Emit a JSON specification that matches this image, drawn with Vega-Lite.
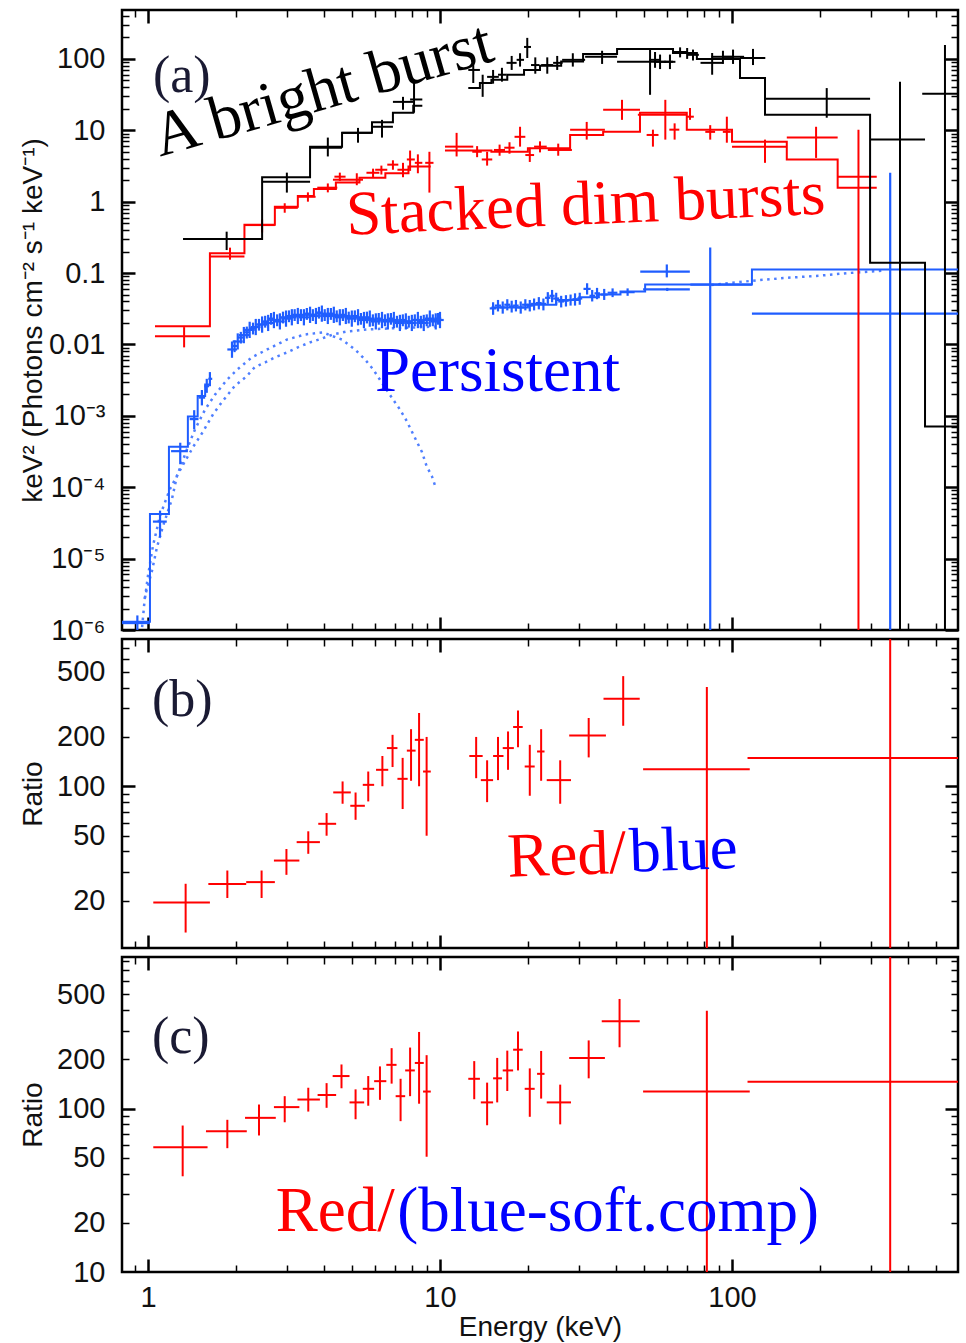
{
"$schema": "https://vega.github.io/schema/vega-lite/v6.json",
"padding": {"left": 17, "top": 7, "right": 5, "bottom": 0},
"spacing": 9,
"bounds": "flush",
"config": {
  "view": {"stroke": "#000", "strokeWidth": 2.5},
  "axis": {"domain": false, "grid": false, "tickColor": "#000", "labelFont": "Liberation Sans", "labelFontSize": 29, "labelColor": "#111", "titleFont": "Liberation Sans", "titleFontSize": 28, "titleFontWeight": "normal", "titleColor": "#111"}
},
"datasets": {
  "bk": [
    {"e":1.86,"elo":1.32,"ehi":2.46,"v":0.3,"vlo":0.21,"vhi":0.38},
    {"e":2.99,"elo":2.46,"ehi":3.59,"v":1.9,"vlo":1.34,"vhi":2.55},
    {"e":4.13,"elo":3.59,"ehi":4.62,"v":5.7,"vlo":4.3,"vhi":7.9},
    {"e":5.24,"elo":4.62,"ehi":5.85,"v":9.2,"vlo":6.7,"vhi":10.8},
    {"e":6.33,"elo":5.85,"ehi":6.9,"v":11.2,"vlo":7.9,"vhi":14},
    {"e":7.47,"elo":6.9,"ehi":8.1,"v":25,"vlo":19.4,"vhi":29.4},
    {"e":8.15,"elo":7.9,"ehi":8.7,"v":27,"vlo":17.6,"vhi":46},
    {"e":13.0,"elo":12.5,"ehi":13.7,"v":70,"vlo":46,"vhi":91},
    {"e":14.0,"elo":13.6,"ehi":14.5,"v":46,"vlo":29.4,"vhi":60},
    {"e":15.2,"elo":14.5,"ehi":15.9,"v":56,"vlo":45,"vhi":70},
    {"e":16.3,"elo":15.8,"ehi":16.9,"v":60,"vlo":48,"vhi":75},
    {"e":17.6,"elo":16.9,"ehi":18.3,"v":88,"vlo":70,"vhi":110},
    {"e":18.8,"elo":18.3,"ehi":19.4,"v":97,"vlo":78,"vhi":120},
    {"e":19.9,"elo":19.4,"ehi":20.5,"v":147,"vlo":103,"vhi":197},
    {"e":21.2,"elo":20.5,"ehi":21.9,"v":82,"vlo":62,"vhi":105},
    {"e":23.3,"elo":22.2,"ehi":24.4,"v":82,"vlo":62,"vhi":105},
    {"e":25.2,"elo":24.4,"ehi":26.3,"v":88,"vlo":70,"vhi":110},
    {"e":28.5,"elo":26.2,"ehi":31.4,"v":97,"vlo":78,"vhi":120},
    {"e":35.9,"elo":31.4,"ehi":40.4,"v":107,"vlo":85,"vhi":130},
    {"e":52.4,"elo":40.4,"ehi":62.8,"v":91,"vlo":31.4,"vhi":134},
    {"e":54.5,"elo":52,"ehi":57,"v":97,"vlo":75,"vhi":125},
    {"e":56.7,"elo":54,"ehi":59.5,"v":91,"vlo":72,"vhi":115},
    {"e":61.3,"elo":58.5,"ehi":64,"v":91,"vlo":72,"vhi":115},
    {"e":66.4,"elo":63,"ehi":70,"v":125,"vlo":105,"vhi":145},
    {"e":70.2,"elo":67,"ehi":73.5,"v":121,"vlo":100,"vhi":142},
    {"e":73.5,"elo":70.5,"ehi":77,"v":114,"vlo":95,"vhi":135},
    {"e":85.5,"elo":78,"ehi":93,"v":88,"vlo":60,"vhi":121},
    {"e":93.1,"elo":85,"ehi":101,"v":107,"vlo":85,"vhi":130},
    {"e":100.8,"elo":93,"ehi":110,"v":107,"vlo":85,"vhi":135},
    {"e":118,"elo":106.5,"ehi":130,"v":103,"vlo":82,"vhi":138},
    {"e":211,"elo":130,"ehi":297,"v":27.6,"vlo":15,"vhi":39},
    {"e":376,"elo":297,"ehi":458,"v":7.4,"vlo":1e-7,"vhi":47.7},
    {"e":536,"elo":448,"ehi":700,"v":32.4,"vlo":1e-7,"vhi":157}
  ],
  "bkm": [
    {"seg":1,"e":1.32,"v":0.3},{"seg":1,"e":2.46,"v":2.2},{"seg":1,"e":3.59,"v":5.9},{"seg":1,"e":4.62,"v":9.2},{"seg":1,"e":5.85,"v":13},{"seg":1,"e":6.9,"v":17.6},{"seg":1,"e":8.1,"v":22},{"seg":1,"e":8.7,"v":22},
    {"seg":2,"e":12.5,"v":39},{"seg":2,"e":13.7,"v":46},{"seg":2,"e":15,"v":51},{"seg":2,"e":17,"v":60},{"seg":2,"e":19.4,"v":70},{"seg":2,"e":22,"v":80},{"seg":2,"e":26,"v":92},{"seg":2,"e":30.9,"v":117},{"seg":2,"e":40.4,"v":138},{"seg":2,"e":62.8,"v":121},{"seg":2,"e":75.8,"v":100},{"seg":2,"e":106.5,"v":54},{"seg":2,"e":129.7,"v":16.5},{"seg":2,"e":297,"v":0.14},{"seg":2,"e":458,"v":0.00071},{"seg":2,"e":594,"v":0.00071}
  ],
  "rd": [
    {"e":1.33,"elo":1.057,"ehi":1.63,"v":0.013,"vlo":0.0091,"vhi":0.0175},
    {"e":1.91,"elo":1.63,"ehi":2.14,"v":0.17,"vlo":0.154,"vhi":0.227},
    {"e":2.46,"elo":2.14,"ehi":2.72,"v":0.47,"vlo":0.37,"vhi":0.56},
    {"e":2.94,"elo":2.72,"ehi":3.26,"v":0.82,"vlo":0.7,"vhi":0.95},
    {"e":3.53,"elo":3.26,"ehi":3.75,"v":1.17,"vlo":1.0,"vhi":1.35},
    {"e":4.13,"elo":3.8,"ehi":4.45,"v":1.57,"vlo":1.35,"vhi":1.8},
    {"e":4.54,"elo":4.35,"ehi":4.75,"v":2.24,"vlo":1.95,"vhi":2.55},
    {"e":5.19,"elo":4.3,"ehi":5.45,"v":2.03,"vlo":1.7,"vhi":2.5},
    {"e":5.9,"elo":5.6,"ehi":6.2,"v":2.54,"vlo":2.2,"vhi":2.9},
    {"e":6.3,"elo":6.0,"ehi":6.6,"v":2.8,"vlo":2.4,"vhi":3.2},
    {"e":6.9,"elo":6.6,"ehi":7.2,"v":3.3,"vlo":2.8,"vhi":3.8},
    {"e":7.47,"elo":7.15,"ehi":7.8,"v":2.8,"vlo":2.2,"vhi":3.5},
    {"e":7.9,"elo":7.7,"ehi":8.2,"v":3.9,"vlo":2.7,"vhi":5.2},
    {"e":8.4,"elo":8.2,"ehi":8.7,"v":3.5,"vlo":2.5,"vhi":4.6},
    {"e":9.2,"elo":8.9,"ehi":9.5,"v":3.5,"vlo":1.34,"vhi":5.0},
    {"e":11.4,"elo":10.4,"ehi":13.0,"v":5.9,"vlo":4.3,"vhi":9.2},
    {"e":13.4,"elo":12.9,"ehi":13.9,"v":5.0,"vlo":4.2,"vhi":6.0},
    {"e":14.5,"elo":13.9,"ehi":15.1,"v":3.9,"vlo":3.2,"vhi":5.0},
    {"e":16.0,"elo":15.3,"ehi":16.7,"v":5.3,"vlo":4.4,"vhi":6.3},
    {"e":17.3,"elo":16.6,"ehi":18.0,"v":5.7,"vlo":4.7,"vhi":6.8},
    {"e":18.8,"elo":18.0,"ehi":19.6,"v":8.1,"vlo":5.9,"vhi":11.2},
    {"e":20.3,"elo":19.6,"ehi":21.0,"v":4.5,"vlo":3.6,"vhi":5.7},
    {"e":22.0,"elo":21.0,"ehi":23.2,"v":5.9,"vlo":4.9,"vhi":7.0},
    {"e":25.4,"elo":23.4,"ehi":28.3,"v":5.3,"vlo":4.4,"vhi":6.5},
    {"e":31.8,"elo":27.9,"ehi":36.7,"v":10.2,"vlo":7.4,"vhi":13.1},
    {"e":42.0,"elo":36.2,"ehi":48.4,"v":19.4,"vlo":14.0,"vhi":26.7},
    {"e":53.6,"elo":51,"ehi":56,"v":8.6,"vlo":5.9,"vhi":10.2},
    {"e":59.1,"elo":47.6,"ehi":70,"v":16.5,"vlo":7.4,"vhi":26.7},
    {"e":63.6,"elo":61,"ehi":66,"v":10.2,"vlo":7.4,"vhi":12.5},
    {"e":71.8,"elo":70,"ehi":74,"v":15.5,"vlo":14,"vhi":20.5},
    {"e":84.2,"elo":81,"ehi":87.5,"v":9.5,"vlo":7.4,"vhi":11.8},
    {"e":96,"elo":93,"ehi":99,"v":9.5,"vlo":6.7,"vhi":15.5},
    {"e":129.7,"elo":100,"ehi":154,"v":5.9,"vlo":3.5,"vhi":7.4},
    {"e":194,"elo":154,"ehi":230,"v":7.9,"vlo":4.1,"vhi":11.2},
    {"e":271,"elo":230,"ehi":313,"v":2.24,"vlo":1e-7,"vhi":10.2}
  ],
  "rdm": [
    {"seg":1,"e":1.057,"v":0.018},{"seg":1,"e":1.63,"v":0.19},{"seg":1,"e":2.14,"v":0.476},{"seg":1,"e":2.72,"v":0.85},{"seg":1,"e":3.26,"v":1.2},{"seg":1,"e":3.7,"v":1.5},{"seg":1,"e":4.4,"v":1.85},{"seg":1,"e":5.3,"v":2.17},{"seg":1,"e":6.5,"v":2.5},{"seg":1,"e":7.8,"v":3.1},{"seg":1,"e":9.3,"v":3.1},
    {"seg":2,"e":10.4,"v":5.2},{"seg":2,"e":15,"v":5.0},{"seg":2,"e":20,"v":5.6},{"seg":2,"e":27.9,"v":8.6},{"seg":2,"e":36.2,"v":9.5},{"seg":2,"e":48.4,"v":17.6},{"seg":2,"e":70,"v":10.2},{"seg":2,"e":100,"v":6.9},{"seg":2,"e":154,"v":3.9},{"seg":2,"e":230,"v":1.57},{"seg":2,"e":313,"v":1.57}
  ],
  "bl": [
    {"e":0.92,"elo":0.815,"ehi":1.016,"v":1.25e-6,"vlo":1.0e-6,"vhi":1.6e-6},
    {"e":1.10,"elo":1.04,"ehi":1.16,"v":3.3e-5,"vlo":2.0e-5,"vhi":4.7e-5},
    {"e":1.29,"elo":1.2,"ehi":1.37,"v":3.2e-4,"vlo":2.1e-4,"vhi":4.2e-4},
    {"e":1.44,"elo":1.39,"ehi":1.49,"v":9.0e-4,"vlo":6.5e-4,"vhi":1.2e-3},
    {"e":1.53,"elo":1.49,"ehi":1.57,"v":1.8e-3,"vlo":1.4e-3,"vhi":2.3e-3},
    {"e":1.59,"elo":1.56,"ehi":1.62,"v":2.6e-3,"vlo":2.1e-3,"vhi":3.3e-3},
    {"e":1.63,"elo":1.61,"ehi":1.66,"v":3.3e-3,"vlo":2.6e-3,"vhi":4.1e-3},
    {"e":1.94,"elo":1.87,"ehi":2.02,"v":0.0085,"vlo":0.0065,"vhi":0.011},
    {"e":2.03,"elo":1.95,"ehi":2.11,"v":0.011,"vlo":0.0085,"vhi":0.0143},
    {"e":2.13,"elo":2.05,"ehi":2.22,"v":0.0135,"vlo":0.0104,"vhi":0.0176},
    {"e":2.23,"elo":2.14,"ehi":2.32,"v":0.016,"vlo":0.0123,"vhi":0.0208},
    {"e":2.34,"elo":2.25,"ehi":2.43,"v":0.0175,"vlo":0.0135,"vhi":0.0228},
    {"e":2.46,"elo":2.37,"ehi":2.56,"v":0.019,"vlo":0.0146,"vhi":0.0247},
    {"e":2.58,"elo":2.48,"ehi":2.68,"v":0.020,"vlo":0.0154,"vhi":0.026},
    {"e":2.70,"elo":2.60,"ehi":2.81,"v":0.022,"vlo":0.0169,"vhi":0.0286},
    {"e":2.83,"elo":2.72,"ehi":2.94,"v":0.021,"vlo":0.0162,"vhi":0.0273},
    {"e":2.97,"elo":2.86,"ehi":3.09,"v":0.023,"vlo":0.0177,"vhi":0.0299},
    {"e":3.11,"elo":2.99,"ehi":3.23,"v":0.024,"vlo":0.0185,"vhi":0.0312},
    {"e":3.26,"elo":3.13,"ehi":3.39,"v":0.025,"vlo":0.0193,"vhi":0.0325},
    {"e":3.42,"elo":3.29,"ehi":3.56,"v":0.024,"vlo":0.0185,"vhi":0.0312},
    {"e":3.59,"elo":3.45,"ehi":3.73,"v":0.026,"vlo":0.020,"vhi":0.0338},
    {"e":3.76,"elo":3.62,"ehi":3.91,"v":0.025,"vlo":0.0193,"vhi":0.0325},
    {"e":3.94,"elo":3.79,"ehi":4.10,"v":0.027,"vlo":0.0208,"vhi":0.0351},
    {"e":4.13,"elo":3.97,"ehi":4.30,"v":0.025,"vlo":0.0193,"vhi":0.0325},
    {"e":4.33,"elo":4.16,"ehi":4.50,"v":0.026,"vlo":0.020,"vhi":0.0338},
    {"e":4.54,"elo":4.37,"ehi":4.72,"v":0.024,"vlo":0.0185,"vhi":0.0312},
    {"e":4.76,"elo":4.58,"ehi":4.95,"v":0.025,"vlo":0.0193,"vhi":0.0325},
    {"e":4.99,"elo":4.80,"ehi":5.19,"v":0.023,"vlo":0.0177,"vhi":0.0299},
    {"e":5.24,"elo":5.04,"ehi":5.45,"v":0.024,"vlo":0.0185,"vhi":0.0312},
    {"e":5.49,"elo":5.28,"ehi":5.71,"v":0.022,"vlo":0.0169,"vhi":0.0286},
    {"e":5.75,"elo":5.53,"ehi":5.98,"v":0.023,"vlo":0.0177,"vhi":0.0299},
    {"e":6.03,"elo":5.80,"ehi":6.27,"v":0.021,"vlo":0.0162,"vhi":0.0273},
    {"e":6.33,"elo":6.09,"ehi":6.58,"v":0.022,"vlo":0.0169,"vhi":0.0286},
    {"e":6.63,"elo":6.38,"ehi":6.90,"v":0.021,"vlo":0.0162,"vhi":0.0273},
    {"e":6.95,"elo":6.68,"ehi":7.23,"v":0.022,"vlo":0.0169,"vhi":0.0286},
    {"e":7.29,"elo":7.01,"ehi":7.58,"v":0.020,"vlo":0.0154,"vhi":0.026},
    {"e":7.64,"elo":7.35,"ehi":7.95,"v":0.021,"vlo":0.0162,"vhi":0.0273},
    {"e":8.01,"elo":7.70,"ehi":8.33,"v":0.020,"vlo":0.0154,"vhi":0.026},
    {"e":8.40,"elo":8.08,"ehi":8.74,"v":0.022,"vlo":0.0169,"vhi":0.0286},
    {"e":8.80,"elo":8.46,"ehi":9.15,"v":0.020,"vlo":0.0154,"vhi":0.026},
    {"e":9.23,"elo":8.88,"ehi":9.60,"v":0.023,"vlo":0.0177,"vhi":0.0299},
    {"e":9.67,"elo":9.30,"ehi":10.06,"v":0.021,"vlo":0.0162,"vhi":0.0273},
    {"e":10.0,"elo":9.7,"ehi":10.3,"v":0.022,"vlo":0.0169,"vhi":0.0286},
    {"e":1.98,"elo":1.93,"ehi":2.03,"v":0.0095,"vlo":0.0078,"vhi":0.0114},
    {"e":2.08,"elo":2.03,"ehi":2.13,"v":0.0125,"vlo":0.0103,"vhi":0.015},
    {"e":2.18,"elo":2.13,"ehi":2.23,"v":0.0148,"vlo":0.0121,"vhi":0.0178},
    {"e":2.29,"elo":2.23,"ehi":2.35,"v":0.0168,"vlo":0.0138,"vhi":0.0202},
    {"e":2.40,"elo":2.34,"ehi":2.46,"v":0.019,"vlo":0.0156,"vhi":0.0228},
    {"e":2.52,"elo":2.46,"ehi":2.58,"v":0.021,"vlo":0.0172,"vhi":0.0252},
    {"e":2.64,"elo":2.58,"ehi":2.71,"v":0.023,"vlo":0.0189,"vhi":0.0276},
    {"e":2.77,"elo":2.70,"ehi":2.84,"v":0.022,"vlo":0.018,"vhi":0.0264},
    {"e":2.90,"elo":2.83,"ehi":2.97,"v":0.024,"vlo":0.0197,"vhi":0.0288},
    {"e":3.04,"elo":2.97,"ehi":3.12,"v":0.025,"vlo":0.0205,"vhi":0.030},
    {"e":3.18,"elo":3.10,"ehi":3.26,"v":0.026,"vlo":0.0213,"vhi":0.0312},
    {"e":3.34,"elo":3.26,"ehi":3.42,"v":0.026,"vlo":0.0213,"vhi":0.0312},
    {"e":3.50,"elo":3.41,"ehi":3.59,"v":0.027,"vlo":0.0221,"vhi":0.0324},
    {"e":3.67,"elo":3.58,"ehi":3.76,"v":0.026,"vlo":0.0213,"vhi":0.0312},
    {"e":3.85,"elo":3.76,"ehi":3.95,"v":0.028,"vlo":0.023,"vhi":0.0336},
    {"e":4.03,"elo":3.93,"ehi":4.13,"v":0.026,"vlo":0.0213,"vhi":0.0312},
    {"e":4.23,"elo":4.13,"ehi":4.34,"v":0.027,"vlo":0.0221,"vhi":0.0324},
    {"e":4.43,"elo":4.32,"ehi":4.54,"v":0.025,"vlo":0.0205,"vhi":0.030},
    {"e":4.65,"elo":4.54,"ehi":4.77,"v":0.026,"vlo":0.0213,"vhi":0.0312},
    {"e":4.87,"elo":4.75,"ehi":4.99,"v":0.024,"vlo":0.0197,"vhi":0.0288},
    {"e":5.11,"elo":4.99,"ehi":5.24,"v":0.025,"vlo":0.0205,"vhi":0.030},
    {"e":5.36,"elo":5.23,"ehi":5.49,"v":0.023,"vlo":0.0189,"vhi":0.0276},
    {"e":5.62,"elo":5.48,"ehi":5.76,"v":0.024,"vlo":0.0197,"vhi":0.0288},
    {"e":5.89,"elo":5.75,"ehi":6.04,"v":0.022,"vlo":0.018,"vhi":0.0264},
    {"e":6.17,"elo":6.02,"ehi":6.32,"v":0.023,"vlo":0.0189,"vhi":0.0276},
    {"e":6.48,"elo":6.32,"ehi":6.64,"v":0.022,"vlo":0.018,"vhi":0.0264},
    {"e":6.79,"elo":6.62,"ehi":6.96,"v":0.023,"vlo":0.0189,"vhi":0.0276},
    {"e":7.12,"elo":6.95,"ehi":7.30,"v":0.021,"vlo":0.0172,"vhi":0.0252},
    {"e":7.46,"elo":7.28,"ehi":7.65,"v":0.022,"vlo":0.018,"vhi":0.0264},
    {"e":7.82,"elo":7.63,"ehi":8.02,"v":0.021,"vlo":0.0172,"vhi":0.0252},
    {"e":8.20,"elo":8.00,"ehi":8.41,"v":0.022,"vlo":0.018,"vhi":0.0264},
    {"e":8.60,"elo":8.39,"ehi":8.82,"v":0.021,"vlo":0.0172,"vhi":0.0252},
    {"e":9.01,"elo":8.79,"ehi":9.24,"v":0.022,"vlo":0.018,"vhi":0.0264},
    {"e":9.45,"elo":9.22,"ehi":9.69,"v":0.022,"vlo":0.018,"vhi":0.0264},
    {"e":9.85,"elo":9.61,"ehi":10.1,"v":0.023,"vlo":0.0189,"vhi":0.0276},
    {"e":15.2,"elo":14.8,"ehi":15.6,"v":0.032,"vlo":0.026,"vhi":0.039},
    {"e":15.8,"elo":15.4,"ehi":16.2,"v":0.035,"vlo":0.029,"vhi":0.042},
    {"e":16.4,"elo":16.0,"ehi":16.8,"v":0.033,"vlo":0.027,"vhi":0.040},
    {"e":17.0,"elo":16.6,"ehi":17.4,"v":0.036,"vlo":0.030,"vhi":0.043},
    {"e":17.6,"elo":17.2,"ehi":18.0,"v":0.034,"vlo":0.028,"vhi":0.041},
    {"e":18.2,"elo":17.8,"ehi":18.6,"v":0.035,"vlo":0.029,"vhi":0.042},
    {"e":18.9,"elo":18.4,"ehi":19.4,"v":0.033,"vlo":0.027,"vhi":0.040},
    {"e":19.6,"elo":19.1,"ehi":20.1,"v":0.036,"vlo":0.030,"vhi":0.043},
    {"e":20.3,"elo":19.8,"ehi":20.8,"v":0.035,"vlo":0.029,"vhi":0.042},
    {"e":21.0,"elo":20.5,"ehi":21.5,"v":0.037,"vlo":0.030,"vhi":0.044},
    {"e":21.8,"elo":21.3,"ehi":22.3,"v":0.038,"vlo":0.031,"vhi":0.046},
    {"e":22.6,"elo":22.1,"ehi":23.1,"v":0.037,"vlo":0.030,"vhi":0.044},
    {"e":23.4,"elo":22.9,"ehi":23.9,"v":0.045,"vlo":0.037,"vhi":0.054},
    {"e":24.2,"elo":23.7,"ehi":24.7,"v":0.048,"vlo":0.039,"vhi":0.058},
    {"e":25.0,"elo":24.4,"ehi":25.6,"v":0.044,"vlo":0.036,"vhi":0.053},
    {"e":26.0,"elo":25.4,"ehi":26.6,"v":0.040,"vlo":0.033,"vhi":0.048},
    {"e":27.0,"elo":26.4,"ehi":27.6,"v":0.041,"vlo":0.034,"vhi":0.049},
    {"e":28.0,"elo":27.4,"ehi":28.6,"v":0.042,"vlo":0.035,"vhi":0.050},
    {"e":29.0,"elo":28.4,"ehi":29.6,"v":0.043,"vlo":0.035,"vhi":0.052},
    {"e":30.1,"elo":29.5,"ehi":30.7,"v":0.044,"vlo":0.036,"vhi":0.053},
    {"e":31.9,"elo":31.0,"ehi":32.8,"v":0.060,"vlo":0.050,"vhi":0.072},
    {"e":33.2,"elo":32.5,"ehi":34.0,"v":0.048,"vlo":0.040,"vhi":0.058},
    {"e":34.5,"elo":33.8,"ehi":35.3,"v":0.052,"vlo":0.043,"vhi":0.062},
    {"e":36.5,"elo":35.5,"ehi":37.5,"v":0.050,"vlo":0.042,"vhi":0.060},
    {"e":39.0,"elo":37.5,"ehi":40.5,"v":0.053,"vlo":0.046,"vhi":0.061},
    {"e":43.9,"elo":41.5,"ehi":46.4,"v":0.054,"vlo":0.048,"vhi":0.061},
    {"e":60.0,"elo":49.6,"ehi":71.7,"v":0.059,"vlo":0.056,"vhi":0.062},
    {"e":59.8,"elo":48.5,"ehi":71.7,"v":0.105,"vlo":0.087,"vhi":0.132},
    {"e":84.2,"elo":72,"ehi":117,"v":0.069,"vlo":1e-7,"vhi":0.228},
    {"e":348,"elo":117,"ehi":700,"v":0.027,"vlo":1e-7,"vhi":2.55}
  ],
  "blm": [
    {"seg":1,"e":0.815,"v":1.3e-6},{"seg":1,"e":1.016,"v":4.2e-5},{"seg":1,"e":1.18,"v":3.7e-4},{"seg":1,"e":1.37,"v":9.8e-4},{"seg":1,"e":1.48,"v":1.9e-3},{"seg":1,"e":1.57,"v":2.75e-3},{"seg":1,"e":1.62,"v":2.75e-3},
    {"seg":2,"e":15,"v":0.033},{"seg":2,"e":20,"v":0.036},{"seg":2,"e":25,"v":0.042},{"seg":2,"e":30,"v":0.046},{"seg":2,"e":35,"v":0.05},{"seg":2,"e":41.5,"v":0.055},{"seg":2,"e":50.4,"v":0.069},{"seg":2,"e":117,"v":0.112},{"seg":2,"e":594,"v":0.112}
  ],
  "bb": [
    {"e":0.955,"v":1.1e-6},{"e":0.977,"v":3.0e-6},{"e":1.032,"v":6.7e-6},{"e":1.074,"v":1.45e-5},{"e":1.126,"v":2.85e-5},{"e":1.208,"v":6.8e-5},{"e":1.257,"v":1.43e-4},{"e":1.36,"v":3.4e-4},{"e":1.45,"v":6.5e-4},{"e":1.57,"v":1.23e-3},{"e":1.70,"v":2.0e-3},{"e":1.865,"v":3.2e-3},{"e":2.03,"v":4.5e-3},{"e":2.27,"v":6.6e-3},{"e":2.56,"v":8.5e-3},{"e":2.99,"v":0.0117},{"e":3.45,"v":0.0138},{"e":3.97,"v":0.0147},{"e":4.62,"v":0.0117},{"e":5.12,"v":8.5e-3},{"e":5.53,"v":6.2e-3},{"e":5.9,"v":4.5e-3},{"e":6.38,"v":2.76e-3},{"e":6.9,"v":1.7e-3},{"e":7.29,"v":1.23e-3},{"e":7.7,"v":8.4e-4},{"e":8.0,"v":6.1e-4},{"e":8.34,"v":4.3e-4},{"e":8.68,"v":3.1e-4},{"e":9.0,"v":1.97e-4},{"e":9.38,"v":1.43e-4},{"e":9.66,"v":1.0e-4}
  ],
  "pc": [
    {"seg":1,"e":0.977,"v":2.8e-6},{"seg":1,"e":1.0,"v":5.7e-6},{"seg":1,"e":1.04,"v":1.5e-5},{"seg":1,"e":1.1,"v":4.0e-5},{"seg":1,"e":1.19,"v":9.5e-5},{"seg":1,"e":1.31,"v":1.97e-4},{"seg":1,"e":1.43,"v":3.7e-4},{"seg":1,"e":1.54,"v":5.9e-4},{"seg":1,"e":1.67,"v":1.05e-3},{"seg":1,"e":1.79,"v":1.55e-3},{"seg":1,"e":1.98,"v":2.6e-3},{"seg":1,"e":2.18,"v":3.6e-3},{"seg":1,"e":2.32,"v":4.8e-3},{"seg":1,"e":2.52,"v":5.6e-3},{"seg":1,"e":2.72,"v":6.6e-3},{"seg":1,"e":2.99,"v":7.7e-3},{"seg":1,"e":3.26,"v":9.1e-3},{"seg":1,"e":3.59,"v":0.0107},{"seg":1,"e":3.94,"v":0.0121},{"seg":1,"e":4.3,"v":0.0138},{"seg":1,"e":4.8,"v":0.0152},{"seg":1,"e":5.62,"v":0.0162},{"seg":1,"e":6.58,"v":0.0167},{"seg":1,"e":7.88,"v":0.0172},{"seg":1,"e":9.6,"v":0.0178},
    {"seg":2,"e":85,"v":0.068},{"seg":2,"e":100,"v":0.073},{"seg":2,"e":121,"v":0.079},{"seg":2,"e":150,"v":0.085},{"seg":2,"e":200,"v":0.092},{"seg":2,"e":250,"v":0.1},{"seg":2,"e":330,"v":0.108}
  ],
  "rb": [
    {"e":1.346,"elo":1.043,"ehi":1.63,"v":19.5,"vlo":12.8,"vhi":25.4},
    {"e":1.87,"elo":1.61,"ehi":2.17,"v":25.3,"vlo":20.8,"vhi":30.6},
    {"e":2.45,"elo":2.17,"ehi":2.72,"v":26.0,"vlo":20.8,"vhi":30.6},
    {"e":2.98,"elo":2.70,"ehi":3.30,"v":35.2,"vlo":28.8,"vhi":41.4},
    {"e":3.54,"elo":3.23,"ehi":3.88,"v":45.6,"vlo":38.7,"vhi":53.1},
    {"e":4.09,"elo":3.83,"ehi":4.41,"v":59.0,"vlo":49.9,"vhi":68.6},
    {"e":4.64,"elo":4.31,"ehi":4.95,"v":91.7,"vlo":78.2,"vhi":107},
    {"e":5.14,"elo":4.93,"ehi":5.53,"v":76.0,"vlo":62.4,"vhi":91.6},
    {"e":5.68,"elo":5.44,"ehi":5.95,"v":102,"vlo":80.8,"vhi":123},
    {"e":6.35,"elo":6.04,"ehi":6.65,"v":126,"vlo":100,"vhi":153},
    {"e":6.88,"elo":6.58,"ehi":7.15,"v":171,"vlo":131,"vhi":206},
    {"e":7.45,"elo":7.15,"ehi":7.75,"v":111,"vlo":72.6,"vhi":149},
    {"e":7.96,"elo":7.7,"ehi":8.25,"v":165,"vlo":108,"vhi":223},
    {"e":8.48,"elo":8.2,"ehi":8.8,"v":192,"vlo":100,"vhi":280},
    {"e":9.0,"elo":8.75,"ehi":9.3,"v":123,"vlo":49.9,"vhi":200},
    {"e":13.3,"elo":12.6,"ehi":14.0,"v":153,"vlo":112,"vhi":200},
    {"e":14.5,"elo":13.8,"ehi":15.2,"v":109,"vlo":80,"vhi":144},
    {"e":15.8,"elo":15.2,"ehi":16.5,"v":153,"vlo":109,"vhi":200},
    {"e":17.1,"elo":16.4,"ehi":17.9,"v":171,"vlo":126,"vhi":216},
    {"e":18.5,"elo":17.8,"ehi":19.2,"v":230,"vlo":173,"vhi":290},
    {"e":20.3,"elo":19.5,"ehi":21.1,"v":132,"vlo":87.5,"vhi":179},
    {"e":22.2,"elo":21.5,"ehi":22.8,"v":163,"vlo":108,"vhi":223},
    {"e":25.8,"elo":23.2,"ehi":28.1,"v":109,"vlo":78.2,"vhi":144},
    {"e":32.3,"elo":27.7,"ehi":37.0,"v":204,"vlo":150,"vhi":261},
    {"e":42.4,"elo":36.3,"ehi":48.3,"v":342,"vlo":234,"vhi":470},
    {"e":82.0,"elo":49.6,"ehi":115,"v":127,"vlo":5,"vhi":404},
    {"e":348,"elo":113,"ehi":700,"v":149,"vlo":5,"vhi":2000}
  ],
  "rc": [
    {"e":1.315,"elo":1.043,"ehi":1.6,"v":57.9,"vlo":38.5,"vhi":78.7},
    {"e":1.87,"elo":1.58,"ehi":2.18,"v":72.6,"vlo":57.2,"vhi":85.3},
    {"e":2.40,"elo":2.15,"ehi":2.74,"v":87.7,"vlo":68.4,"vhi":105.8},
    {"e":2.94,"elo":2.70,"ehi":3.30,"v":102,"vlo":82.4,"vhi":119},
    {"e":3.54,"elo":3.25,"ehi":3.88,"v":113.5,"vlo":95.8,"vhi":134},
    {"e":4.09,"elo":3.81,"ehi":4.41,"v":121,"vlo":101,"vhi":143},
    {"e":4.60,"elo":4.29,"ehi":4.9,"v":158,"vlo":133,"vhi":186},
    {"e":5.14,"elo":4.9,"ehi":5.5,"v":109,"vlo":86,"vhi":131},
    {"e":5.68,"elo":5.44,"ehi":5.95,"v":132,"vlo":104,"vhi":158},
    {"e":6.23,"elo":5.95,"ehi":6.55,"v":147,"vlo":113,"vhi":181},
    {"e":6.83,"elo":6.55,"ehi":7.1,"v":185,"vlo":142,"vhi":234},
    {"e":7.33,"elo":7.05,"ehi":7.6,"v":119,"vlo":83.7,"vhi":152},
    {"e":7.9,"elo":7.6,"ehi":8.2,"v":171,"vlo":119,"vhi":236},
    {"e":8.48,"elo":8.2,"ehi":8.8,"v":190,"vlo":107,"vhi":294},
    {"e":9.0,"elo":8.75,"ehi":9.3,"v":127,"vlo":50.7,"vhi":212},
    {"e":13.1,"elo":12.5,"ehi":13.7,"v":152,"vlo":114,"vhi":195},
    {"e":14.5,"elo":13.8,"ehi":15.2,"v":109,"vlo":79,"vhi":144},
    {"e":15.7,"elo":15.2,"ehi":16.3,"v":153,"vlo":109,"vhi":204},
    {"e":17.0,"elo":16.4,"ehi":17.8,"v":171,"vlo":128,"vhi":226},
    {"e":18.5,"elo":17.8,"ehi":19.2,"v":229,"vlo":171,"vhi":296},
    {"e":20.3,"elo":19.5,"ehi":21.1,"v":132,"vlo":89,"vhi":176},
    {"e":22.2,"elo":21.5,"ehi":22.8,"v":163,"vlo":115,"vhi":225},
    {"e":25.8,"elo":23.2,"ehi":28.1,"v":109,"vlo":80,"vhi":140},
    {"e":32.3,"elo":27.7,"ehi":36.7,"v":204,"vlo":153,"vhi":261},
    {"e":41.2,"elo":35.8,"ehi":48.3,"v":342,"vlo":237,"vhi":468},
    {"e":82,"elo":49.6,"ehi":115,"v":127,"vlo":5,"vhi":397},
    {"e":348,"elo":113,"ehi":700,"v":146,"vlo":5,"vhi":2000}
  ]
},
"vconcat": [
{
  "width": 836, "height": 620,
  "resolve": {"axis": {"x": "independent", "y": "independent"}},
  "layer": [
    {"data": {"name": "bb"}, "mark": {"type": "line", "strokeDash": [2.5, 4.5], "strokeWidth": 2.5, "color": "#4f7fff", "clip": true},
     "encoding": {"x": {"field": "e", "type": "quantitative", "scale": {"type": "log", "domain": [0.815, 594], "nice": false}, "axis": null},
                  "y": {"field": "v", "type": "quantitative", "scale": {"type": "log", "domain": [1e-6, 484], "nice": false}, "axis": null}}},
    {"data": {"name": "pc"}, "mark": {"type": "line", "strokeDash": [2.5, 4.5], "strokeWidth": 2.5, "color": "#4f7fff", "clip": true},
     "encoding": {"x": {"field": "e", "type": "quantitative", "scale": {"type": "log", "domain": [0.815, 594], "nice": false}, "axis": null},
                  "y": {"field": "v", "type": "quantitative", "scale": {"type": "log", "domain": [1e-6, 484], "nice": false}, "axis": null},
                  "detail": {"field": "seg", "type": "nominal"}}},
    {"data": {"name": "blm"}, "mark": {"type": "line", "interpolate": "step-after", "strokeWidth": 2, "color": "#1f5dff", "clip": true},
     "encoding": {"x": {"field": "e", "type": "quantitative", "scale": {"type": "log", "domain": [0.815, 594], "nice": false}, "axis": null},
                  "y": {"field": "v", "type": "quantitative", "scale": {"type": "log", "domain": [1e-6, 484], "nice": false}, "axis": null},
                  "detail": {"field": "seg", "type": "nominal"}}},
    {"data": {"name": "bl"}, "mark": {"type": "rule", "strokeWidth": 2.2, "color": "#1f5dff", "clip": true},
     "encoding": {"x": {"field": "elo", "type": "quantitative", "scale": {"type": "log", "domain": [0.815, 594], "nice": false}, "axis": null},
                  "x2": {"field": "ehi"},
                  "y": {"field": "v", "type": "quantitative", "scale": {"type": "log", "domain": [1e-6, 484], "nice": false}, "axis": null}}},
    {"data": {"name": "bl"}, "mark": {"type": "rule", "strokeWidth": 2.2, "color": "#1f5dff", "clip": true},
     "encoding": {"x": {"field": "e", "type": "quantitative", "scale": {"type": "log", "domain": [0.815, 594], "nice": false}, "axis": null},
                  "y": {"field": "vlo", "type": "quantitative", "scale": {"type": "log", "domain": [1e-6, 484], "nice": false}, "axis": null},
                  "y2": {"field": "vhi"}}},
    {"data": {"name": "rdm"}, "mark": {"type": "line", "interpolate": "step-after", "strokeWidth": 2, "color": "#ff0000", "clip": true},
     "encoding": {"x": {"field": "e", "type": "quantitative", "scale": {"type": "log", "domain": [0.815, 594], "nice": false}, "axis": null},
                  "y": {"field": "v", "type": "quantitative", "scale": {"type": "log", "domain": [1e-6, 484], "nice": false}, "axis": null},
                  "detail": {"field": "seg", "type": "nominal"}}},
    {"data": {"name": "rd"}, "mark": {"type": "rule", "strokeWidth": 2, "color": "#ff0000", "clip": true},
     "encoding": {"x": {"field": "elo", "type": "quantitative", "scale": {"type": "log", "domain": [0.815, 594], "nice": false}, "axis": null},
                  "x2": {"field": "ehi"},
                  "y": {"field": "v", "type": "quantitative", "scale": {"type": "log", "domain": [1e-6, 484], "nice": false}, "axis": null}}},
    {"data": {"name": "rd"}, "mark": {"type": "rule", "strokeWidth": 2, "color": "#ff0000", "clip": true},
     "encoding": {"x": {"field": "e", "type": "quantitative", "scale": {"type": "log", "domain": [0.815, 594], "nice": false}, "axis": null},
                  "y": {"field": "vlo", "type": "quantitative", "scale": {"type": "log", "domain": [1e-6, 484], "nice": false}, "axis": null},
                  "y2": {"field": "vhi"}}},
    {"data": {"name": "bkm"}, "mark": {"type": "line", "interpolate": "step-after", "strokeWidth": 2, "color": "#000000", "clip": true},
     "encoding": {"x": {"field": "e", "type": "quantitative", "scale": {"type": "log", "domain": [0.815, 594], "nice": false}, "axis": null},
                  "y": {"field": "v", "type": "quantitative", "scale": {"type": "log", "domain": [1e-6, 484], "nice": false}, "axis": null},
                  "detail": {"field": "seg", "type": "nominal"}}},
    {"data": {"name": "bk"}, "mark": {"type": "rule", "strokeWidth": 2, "color": "#000000", "clip": true},
     "encoding": {"x": {"field": "elo", "type": "quantitative", "scale": {"type": "log", "domain": [0.815, 594], "nice": false}, "axis": null},
                  "x2": {"field": "ehi"},
                  "y": {"field": "v", "type": "quantitative", "scale": {"type": "log", "domain": [1e-6, 484], "nice": false}, "axis": null}}},
    {"data": {"name": "bk"}, "mark": {"type": "rule", "strokeWidth": 2, "color": "#000000", "clip": true},
     "encoding": {"x": {"field": "e", "type": "quantitative", "scale": {"type": "log", "domain": [0.815, 594], "nice": false}, "axis": null},
                  "y": {"field": "vlo", "type": "quantitative", "scale": {"type": "log", "domain": [1e-6, 484], "nice": false}, "axis": null},
                  "y2": {"field": "vhi"}}},
    {"data": {"values": [{"label": "(a)", "e": 1.04, "v": 34.5}]}, "mark": {"type": "text", "align": "left", "baseline": "alphabetic", "font": "Liberation Serif", "fontSize": 52, "color": "#1a1a33"},
     "encoding": {"x": {"field": "e", "type": "quantitative", "scale": {"type": "log", "domain": [0.815, 594], "nice": false}, "axis": null},
                  "y": {"field": "v", "type": "quantitative", "scale": {"type": "log", "domain": [1e-6, 484], "nice": false}, "axis": null},
                  "text": {"field": "label"}}},
    {"data": {"values": [{"label": "A bright burst", "e": 1.099, "v": 4.26}]}, "mark": {"type": "text", "align": "left", "baseline": "alphabetic", "font": "Liberation Serif", "fontSize": 63, "angle": 344, "color": "#000000"},
     "encoding": {"x": {"field": "e", "type": "quantitative", "scale": {"type": "log", "domain": [0.815, 594], "nice": false}, "axis": null},
                  "y": {"field": "v", "type": "quantitative", "scale": {"type": "log", "domain": [1e-6, 484], "nice": false}, "axis": null},
                  "text": {"field": "label"}}},
    {"data": {"values": [{"label": "Stacked dim bursts", "e": 4.8, "v": 0.345}]}, "mark": {"type": "text", "align": "left", "baseline": "alphabetic", "font": "Liberation Serif", "fontSize": 63, "angle": 357.5, "color": "#ff0000"},
     "encoding": {"x": {"field": "e", "type": "quantitative", "scale": {"type": "log", "domain": [0.815, 594], "nice": false}, "axis": null},
                  "y": {"field": "v", "type": "quantitative", "scale": {"type": "log", "domain": [1e-6, 484], "nice": false}, "axis": null},
                  "text": {"field": "label"}}},
    {"data": {"values": [{"label": "Persistent", "e": 5.99, "v": 0.0022}]}, "mark": {"type": "text", "align": "left", "baseline": "alphabetic", "font": "Liberation Serif", "fontSize": 63, "color": "#0000ff"},
     "encoding": {"x": {"field": "e", "type": "quantitative", "scale": {"type": "log", "domain": [0.815, 594], "nice": false}, "axis": null},
                  "y": {"field": "v", "type": "quantitative", "scale": {"type": "log", "domain": [1e-6, 484], "nice": false}, "axis": null},
                  "text": {"field": "label"}}},
    {"data": {"name": "bk"}, "mark": {"type": "point", "opacity": 0},
     "encoding": {"x": {"field": "e", "type": "quantitative", "scale": {"type": "log", "domain": [0.815, 594], "nice": false}, "axis": null},
                  "y": {"field": "v", "type": "quantitative", "scale": {"type": "log", "domain": [1e-6, 484], "nice": false},
                        "axis": {"orient": "left", "values": [1e-6, 1e-5, 0.0001, 0.001, 0.01, 0.1, 1, 10, 100], "ticks": false, "labelPadding": 17,
                                 "labelExpr": "datum.value==100?'100':datum.value==10?'10':datum.value==1?'1':datum.value==0.1?'0.1':datum.value==0.01?'0.01':datum.value==0.001?'10⁻³':datum.value==0.0001?'10⁻⁴':datum.value==0.00001?'10⁻⁵':'10⁻⁶'",
                                 "title": "keV² (Photons cm⁻² s⁻¹ keV⁻¹)", "titleX": -89, "titleY": 310, "titleBaseline": "middle"}}}},
    {"data": {"name": "bk"}, "mark": {"type": "point", "opacity": 0},
     "encoding": {"x": {"field": "e", "type": "quantitative", "scale": {"type": "log", "domain": [0.815, 594], "nice": false},
                        "axis": {"orient": "bottom", "values": [1, 10, 100], "tickSize": -13, "tickWidth": 2.5, "labels": false, "title": null}},
                  "y": {"field": "v", "type": "quantitative", "scale": {"type": "log", "domain": [1e-6, 484], "nice": false},
                        "axis": {"orient": "left", "values": [1e-6, 1e-5, 0.0001, 0.001, 0.01, 0.1, 1, 10, 100], "tickSize": -13, "tickWidth": 2.5, "labels": false, "title": null}}}},
    {"data": {"name": "bk"}, "mark": {"type": "point", "opacity": 0},
     "encoding": {"x": {"field": "e", "type": "quantitative", "scale": {"type": "log", "domain": [0.815, 594], "nice": false},
                        "axis": {"orient": "top", "values": [1, 10, 100], "tickSize": -13, "tickWidth": 2.5, "labels": false, "title": null}},
                  "y": {"field": "v", "type": "quantitative", "scale": {"type": "log", "domain": [1e-6, 484], "nice": false},
                        "axis": {"orient": "right", "values": [1e-6, 1e-5, 0.0001, 0.001, 0.01, 0.1, 1, 10, 100], "tickSize": -13, "tickWidth": 2.5, "labels": false, "title": null}}}},
    {"data": {"name": "bk"}, "mark": {"type": "point", "opacity": 0},
     "encoding": {"x": {"field": "e", "type": "quantitative", "scale": {"type": "log", "domain": [0.815, 594], "nice": false},
                        "axis": {"orient": "bottom", "values": [0.9, 2, 3, 4, 5, 6, 7, 8, 9, 20, 30, 40, 50, 60, 70, 80, 90, 200, 300, 400, 500], "tickSize": -7, "tickWidth": 1.5, "labels": false, "title": null}},
                  "y": {"field": "v", "type": "quantitative", "scale": {"type": "log", "domain": [1e-6, 484], "nice": false},
                        "axis": {"orient": "left", "values": [2e-6,3e-6,4e-6,5e-6,6e-6,7e-6,8e-6,9e-6,2e-5,3e-5,4e-5,5e-5,6e-5,7e-5,8e-5,9e-5,0.0002,0.0003,0.0004,0.0005,0.0006,0.0007,0.0008,0.0009,0.002,0.003,0.004,0.005,0.006,0.007,0.008,0.009,0.02,0.03,0.04,0.05,0.06,0.07,0.08,0.09,0.2,0.3,0.4,0.5,0.6,0.7,0.8,0.9,2,3,4,5,6,7,8,9,20,30,40,50,60,70,80,90,200,300,400], "tickSize": -7, "tickWidth": 1.5, "labels": false, "title": null}}}},
    {"data": {"name": "bk"}, "mark": {"type": "point", "opacity": 0},
     "encoding": {"x": {"field": "e", "type": "quantitative", "scale": {"type": "log", "domain": [0.815, 594], "nice": false},
                        "axis": {"orient": "top", "values": [0.9, 2, 3, 4, 5, 6, 7, 8, 9, 20, 30, 40, 50, 60, 70, 80, 90, 200, 300, 400, 500], "tickSize": -7, "tickWidth": 1.5, "labels": false, "title": null}},
                  "y": {"field": "v", "type": "quantitative", "scale": {"type": "log", "domain": [1e-6, 484], "nice": false},
                        "axis": {"orient": "right", "values": [2e-6,3e-6,4e-6,5e-6,6e-6,7e-6,8e-6,9e-6,2e-5,3e-5,4e-5,5e-5,6e-5,7e-5,8e-5,9e-5,0.0002,0.0003,0.0004,0.0005,0.0006,0.0007,0.0008,0.0009,0.002,0.003,0.004,0.005,0.006,0.007,0.008,0.009,0.02,0.03,0.04,0.05,0.06,0.07,0.08,0.09,0.2,0.3,0.4,0.5,0.6,0.7,0.8,0.9,2,3,4,5,6,7,8,9,20,30,40,50,60,70,80,90,200,300,400], "tickSize": -7, "tickWidth": 1.5, "labels": false, "title": null}}}}
  ]
},
{
  "width": 836, "height": 309,
  "resolve": {"axis": {"x": "independent", "y": "independent"}},
  "layer": [
    {"data": {"name": "rb"}, "mark": {"type": "rule", "strokeWidth": 2, "color": "#ff0000", "clip": true},
     "encoding": {"x": {"field": "elo", "type": "quantitative", "scale": {"type": "log", "domain": [0.815, 594], "nice": false}, "axis": null},
                  "x2": {"field": "ehi"},
                  "y": {"field": "v", "type": "quantitative", "scale": {"type": "log", "domain": [10.3, 792], "nice": false}, "axis": null}}},
    {"data": {"name": "rb"}, "mark": {"type": "rule", "strokeWidth": 2, "color": "#ff0000", "clip": true},
     "encoding": {"x": {"field": "e", "type": "quantitative", "scale": {"type": "log", "domain": [0.815, 594], "nice": false}, "axis": null},
                  "y": {"field": "vlo", "type": "quantitative", "scale": {"type": "log", "domain": [10.3, 792], "nice": false}, "axis": null},
                  "y2": {"field": "vhi"}}},
    {"data": {"values": [{"label": "(b)", "e": 1.032, "v": 269}]}, "mark": {"type": "text", "align": "left", "baseline": "alphabetic", "font": "Liberation Serif", "fontSize": 52, "color": "#1a1a33"},
     "encoding": {"x": {"field": "e", "type": "quantitative", "scale": {"type": "log", "domain": [0.815, 594], "nice": false}, "axis": null},
                  "y": {"field": "v", "type": "quantitative", "scale": {"type": "log", "domain": [10.3, 792], "nice": false}, "axis": null},
                  "text": {"field": "label"}}},
    {"data": {"values": [{"label": "Red/", "e": 17.1, "v": 28.0}]}, "mark": {"type": "text", "align": "left", "baseline": "alphabetic", "font": "Liberation Serif", "fontSize": 63, "angle": 358, "color": "#ff0000"},
     "encoding": {"x": {"field": "e", "type": "quantitative", "scale": {"type": "log", "domain": [0.815, 594], "nice": false}, "axis": null},
                  "y": {"field": "v", "type": "quantitative", "scale": {"type": "log", "domain": [10.3, 792], "nice": false}, "axis": null},
                  "text": {"field": "label"}}},
    {"data": {"values": [{"label": "blue", "e": 44.7, "v": 30.1}]}, "mark": {"type": "text", "align": "left", "baseline": "alphabetic", "font": "Liberation Serif", "fontSize": 63, "angle": 358, "color": "#0000ff"},
     "encoding": {"x": {"field": "e", "type": "quantitative", "scale": {"type": "log", "domain": [0.815, 594], "nice": false}, "axis": null},
                  "y": {"field": "v", "type": "quantitative", "scale": {"type": "log", "domain": [10.3, 792], "nice": false}, "axis": null},
                  "text": {"field": "label"}}},
    {"data": {"name": "rb"}, "mark": {"type": "point", "opacity": 0},
     "encoding": {"x": {"field": "e", "type": "quantitative", "scale": {"type": "log", "domain": [0.815, 594], "nice": false}, "axis": null},
                  "y": {"field": "v", "type": "quantitative", "scale": {"type": "log", "domain": [10.3, 792], "nice": false},
                        "axis": {"orient": "left", "values": [20, 50, 100, 200, 500], "ticks": false, "labelPadding": 17, "format": "d",
                                 "title": "Ratio", "titleX": -89, "titleY": 154.5, "titleBaseline": "middle"}}}},
    {"data": {"name": "rb"}, "mark": {"type": "point", "opacity": 0},
     "encoding": {"x": {"field": "e", "type": "quantitative", "scale": {"type": "log", "domain": [0.815, 594], "nice": false},
                        "axis": {"orient": "bottom", "values": [1, 10, 100], "tickSize": -13, "tickWidth": 2.5, "labels": false, "title": null}},
                  "y": {"field": "v", "type": "quantitative", "scale": {"type": "log", "domain": [10.3, 792], "nice": false},
                        "axis": {"orient": "left", "values": [100], "tickSize": -13, "tickWidth": 2.5, "labels": false, "title": null}}}},
    {"data": {"name": "rb"}, "mark": {"type": "point", "opacity": 0},
     "encoding": {"x": {"field": "e", "type": "quantitative", "scale": {"type": "log", "domain": [0.815, 594], "nice": false},
                        "axis": {"orient": "top", "values": [1, 10, 100], "tickSize": -13, "tickWidth": 2.5, "labels": false, "title": null}},
                  "y": {"field": "v", "type": "quantitative", "scale": {"type": "log", "domain": [10.3, 792], "nice": false},
                        "axis": {"orient": "right", "values": [100], "tickSize": -13, "tickWidth": 2.5, "labels": false, "title": null}}}},
    {"data": {"name": "rb"}, "mark": {"type": "point", "opacity": 0},
     "encoding": {"x": {"field": "e", "type": "quantitative", "scale": {"type": "log", "domain": [0.815, 594], "nice": false},
                        "axis": {"orient": "bottom", "values": [0.9, 2, 3, 4, 5, 6, 7, 8, 9, 20, 30, 40, 50, 60, 70, 80, 90, 200, 300, 400, 500], "tickSize": -7, "tickWidth": 1.5, "labels": false, "title": null}},
                  "y": {"field": "v", "type": "quantitative", "scale": {"type": "log", "domain": [10.3, 792], "nice": false},
                        "axis": {"orient": "left", "values": [20, 30, 40, 50, 60, 70, 80, 90, 200, 300, 400, 500, 600, 700], "tickSize": -7, "tickWidth": 1.5, "labels": false, "title": null}}}},
    {"data": {"name": "rb"}, "mark": {"type": "point", "opacity": 0},
     "encoding": {"x": {"field": "e", "type": "quantitative", "scale": {"type": "log", "domain": [0.815, 594], "nice": false},
                        "axis": {"orient": "top", "values": [0.9, 2, 3, 4, 5, 6, 7, 8, 9, 20, 30, 40, 50, 60, 70, 80, 90, 200, 300, 400, 500], "tickSize": -7, "tickWidth": 1.5, "labels": false, "title": null}},
                  "y": {"field": "v", "type": "quantitative", "scale": {"type": "log", "domain": [10.3, 792], "nice": false},
                        "axis": {"orient": "right", "values": [20, 30, 40, 50, 60, 70, 80, 90, 200, 300, 400, 500, 600, 700], "tickSize": -7, "tickWidth": 1.5, "labels": false, "title": null}}}}
  ]
},
{
  "width": 836, "height": 315,
  "resolve": {"axis": {"x": "independent", "y": "independent"}},
  "layer": [
    {"data": {"name": "rc"}, "mark": {"type": "rule", "strokeWidth": 2, "color": "#ff0000", "clip": true},
     "encoding": {"x": {"field": "elo", "type": "quantitative", "scale": {"type": "log", "domain": [0.815, 594], "nice": false}, "axis": null},
                  "x2": {"field": "ehi"},
                  "y": {"field": "v", "type": "quantitative", "scale": {"type": "log", "domain": [10, 845], "nice": false}, "axis": null}}},
    {"data": {"name": "rc"}, "mark": {"type": "rule", "strokeWidth": 2, "color": "#ff0000", "clip": true},
     "encoding": {"x": {"field": "e", "type": "quantitative", "scale": {"type": "log", "domain": [0.815, 594], "nice": false}, "axis": null},
                  "y": {"field": "vlo", "type": "quantitative", "scale": {"type": "log", "domain": [10, 845], "nice": false}, "axis": null},
                  "y2": {"field": "vhi"}}},
    {"data": {"values": [{"label": "(c)", "e": 1.032, "v": 220}]}, "mark": {"type": "text", "align": "left", "baseline": "alphabetic", "font": "Liberation Serif", "fontSize": 52, "color": "#1a1a33"},
     "encoding": {"x": {"field": "e", "type": "quantitative", "scale": {"type": "log", "domain": [0.815, 594], "nice": false}, "axis": null},
                  "y": {"field": "v", "type": "quantitative", "scale": {"type": "log", "domain": [10, 845], "nice": false}, "axis": null},
                  "text": {"field": "label"}}},
    {"data": {"values": [{"label": "Red/", "e": 2.74, "v": 17.7}]}, "mark": {"type": "text", "align": "left", "baseline": "alphabetic", "font": "Liberation Serif", "fontSize": 63, "color": "#ff0000"},
     "encoding": {"x": {"field": "e", "type": "quantitative", "scale": {"type": "log", "domain": [0.815, 594], "nice": false}, "axis": null},
                  "y": {"field": "v", "type": "quantitative", "scale": {"type": "log", "domain": [10, 845], "nice": false}, "axis": null},
                  "text": {"field": "label"}}},
    {"data": {"values": [{"label": "(blue-soft.comp)", "e": 7.14, "v": 17.7}]}, "mark": {"type": "text", "align": "left", "baseline": "alphabetic", "font": "Liberation Serif", "fontSize": 63, "color": "#0000ff"},
     "encoding": {"x": {"field": "e", "type": "quantitative", "scale": {"type": "log", "domain": [0.815, 594], "nice": false}, "axis": null},
                  "y": {"field": "v", "type": "quantitative", "scale": {"type": "log", "domain": [10, 845], "nice": false}, "axis": null},
                  "text": {"field": "label"}}},
    {"data": {"name": "rc"}, "mark": {"type": "point", "opacity": 0},
     "encoding": {"x": {"field": "e", "type": "quantitative", "scale": {"type": "log", "domain": [0.815, 594], "nice": false},
                        "axis": {"orient": "bottom", "values": [1, 10, 100], "ticks": false, "labelPadding": 11, "format": "d", "title": "Energy (keV)", "titlePadding": 1}},
                  "y": {"field": "v", "type": "quantitative", "scale": {"type": "log", "domain": [10, 845], "nice": false},
                        "axis": {"orient": "left", "values": [10, 20, 50, 100, 200, 500], "ticks": false, "labelPadding": 17, "format": "d",
                                 "title": "Ratio", "titleX": -89, "titleY": 157.5, "titleBaseline": "middle"}}}},
    {"data": {"name": "rc"}, "mark": {"type": "point", "opacity": 0},
     "encoding": {"x": {"field": "e", "type": "quantitative", "scale": {"type": "log", "domain": [0.815, 594], "nice": false},
                        "axis": {"orient": "bottom", "values": [1, 10, 100], "tickSize": -13, "tickWidth": 2.5, "labels": false, "title": null}},
                  "y": {"field": "v", "type": "quantitative", "scale": {"type": "log", "domain": [10, 845], "nice": false},
                        "axis": {"orient": "left", "values": [100], "tickSize": -13, "tickWidth": 2.5, "labels": false, "title": null}}}},
    {"data": {"name": "rc"}, "mark": {"type": "point", "opacity": 0},
     "encoding": {"x": {"field": "e", "type": "quantitative", "scale": {"type": "log", "domain": [0.815, 594], "nice": false},
                        "axis": {"orient": "top", "values": [1, 10, 100], "tickSize": -13, "tickWidth": 2.5, "labels": false, "title": null}},
                  "y": {"field": "v", "type": "quantitative", "scale": {"type": "log", "domain": [10, 845], "nice": false},
                        "axis": {"orient": "right", "values": [100], "tickSize": -13, "tickWidth": 2.5, "labels": false, "title": null}}}},
    {"data": {"name": "rc"}, "mark": {"type": "point", "opacity": 0},
     "encoding": {"x": {"field": "e", "type": "quantitative", "scale": {"type": "log", "domain": [0.815, 594], "nice": false},
                        "axis": {"orient": "bottom", "values": [0.9, 2, 3, 4, 5, 6, 7, 8, 9, 20, 30, 40, 50, 60, 70, 80, 90, 200, 300, 400, 500], "tickSize": -7, "tickWidth": 1.5, "labels": false, "title": null}},
                  "y": {"field": "v", "type": "quantitative", "scale": {"type": "log", "domain": [10, 845], "nice": false},
                        "axis": {"orient": "left", "values": [20, 30, 40, 50, 60, 70, 80, 90, 200, 300, 400, 500, 600, 700, 800], "tickSize": -7, "tickWidth": 1.5, "labels": false, "title": null}}}},
    {"data": {"name": "rc"}, "mark": {"type": "point", "opacity": 0},
     "encoding": {"x": {"field": "e", "type": "quantitative", "scale": {"type": "log", "domain": [0.815, 594], "nice": false},
                        "axis": {"orient": "top", "values": [0.9, 2, 3, 4, 5, 6, 7, 8, 9, 20, 30, 40, 50, 60, 70, 80, 90, 200, 300, 400, 500], "tickSize": -7, "tickWidth": 1.5, "labels": false, "title": null}},
                  "y": {"field": "v", "type": "quantitative", "scale": {"type": "log", "domain": [10, 845], "nice": false},
                        "axis": {"orient": "right", "values": [20, 30, 40, 50, 60, 70, 80, 90, 200, 300, 400, 500, 600, 700, 800], "tickSize": -7, "tickWidth": 1.5, "labels": false, "title": null}}}}
  ]
}
]
}
